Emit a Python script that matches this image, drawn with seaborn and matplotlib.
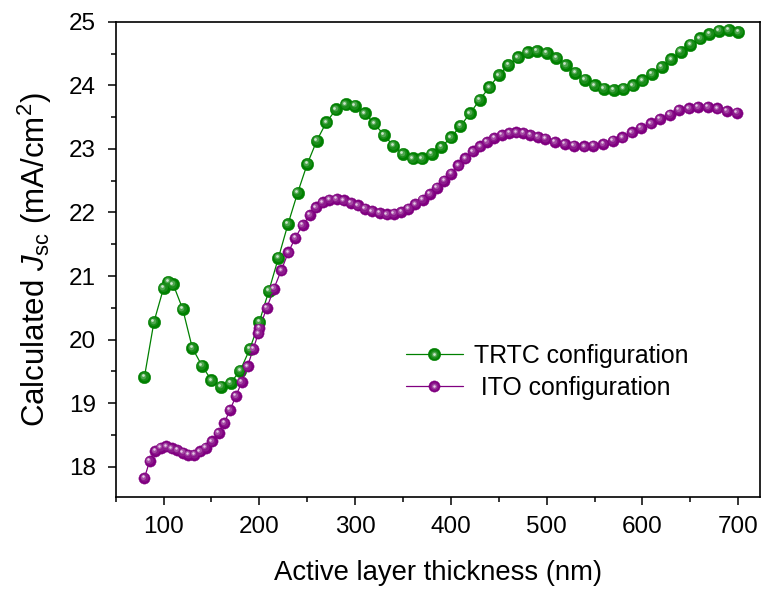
import numpy as np
import pandas as pd
import matplotlib
matplotlib.use("Agg")
import matplotlib.pyplot as plt
import matplotlib.transforms as mtransforms
from matplotlib.ticker import MultipleLocator
from matplotlib.lines import Line2D
from matplotlib.legend_handler import HandlerTuple
import seaborn as sns

# ---------------- data ----------------
trtc_x = [80, 90, 100, 105, 110, 120, 130, 140, 150, 160, 170, 180, 190, 200,
          210, 220, 230, 240, 250, 260, 270, 280, 290, 300, 310, 320, 330, 340,
          350, 360, 370, 380, 390, 400, 410, 420, 430, 440, 450, 460, 470, 480,
          490, 500, 510, 520, 530, 540, 550, 560, 570, 580, 590, 600, 610, 620,
          630, 640, 650, 660, 670, 680, 690, 700]
trtc_y = [19.41, 20.28, 20.81, 20.91, 20.87, 20.48, 19.87, 19.59, 19.36, 19.26,
          19.32, 19.51, 19.85, 20.28, 20.77, 21.29, 21.82, 22.31, 22.76, 23.13,
          23.42, 23.62, 23.70, 23.68, 23.56, 23.40, 23.22, 23.05, 22.92, 22.85,
          22.85, 22.92, 23.03, 23.18, 23.36, 23.56, 23.77, 23.97, 24.16, 24.32,
          24.44, 24.52, 24.54, 24.51, 24.43, 24.32, 24.20, 24.09, 24.00, 23.95,
          23.93, 23.95, 24.00, 24.08, 24.18, 24.29, 24.41, 24.53, 24.64, 24.74,
          24.81, 24.86, 24.87, 24.84]

ito_x = [80, 85.5, 91.3, 97, 102.8, 108.4, 114.3, 120.3, 126, 132, 138, 143.8,
         150.5, 157.4, 163.4, 169.3, 175.6, 181.5, 187.7, 193.6, 199, 200,
         207.9, 215.2, 222.9, 230.2, 237.5, 245.1, 252.8, 259.3, 266, 273,
         280.6, 287.9, 295.6, 302.9, 310.2, 317.8, 325.5, 333.2, 340.5, 348.1,
         355.7, 363, 370.4, 378.1, 385.4, 393, 400.3, 407.9, 415.2, 423, 430.6,
         437.6, 445.2, 453.2, 460.9, 468.5, 475.8, 483.1, 491.1, 498.7, 508.6,
         519.3, 528.7, 539.2, 548.9, 559.3, 569.1, 579.1, 588.9, 598.6, 608.8,
         618.5, 628.9, 638.3, 648.4, 658.1, 668.3, 678.3, 688.1, 698.5]
ito_y = [17.82, 18.09, 18.25, 18.30, 18.32, 18.29, 18.26, 18.22, 18.19, 18.19,
         18.24, 18.30, 18.40, 18.53, 18.69, 18.89, 19.11, 19.33, 19.58, 19.85,
         20.10, 20.18, 20.50, 20.80, 21.09, 21.37, 21.60, 21.80, 21.96, 22.08,
         22.16, 22.20, 22.21, 22.19, 22.15, 22.11, 22.06, 22.02, 21.99, 21.97,
         21.98, 22.01, 22.06, 22.13, 22.20, 22.29, 22.39, 22.50, 22.61, 22.74,
         22.85, 22.96, 23.04, 23.11, 23.17, 23.22, 23.25, 23.26, 23.25, 23.22,
         23.19, 23.16, 23.11, 23.08, 23.05, 23.04, 23.05, 23.08, 23.13, 23.18,
         23.26, 23.33, 23.40, 23.47, 23.54, 23.61, 23.64, 23.66, 23.66, 23.64,
         23.60, 23.57]

series_labels = ["TRTC configuration", " ITO configuration"]
x_ticks = [100, 200, 300, 400, 500, 600, 700]
y_ticks = [18, 19, 20, 21, 22, 23, 24, 25]

# ---------------- style ----------------
sns.set_style("ticks")
plt.rcParams["font.family"] = ["Liberation Sans", "DejaVu Sans"]
plt.rcParams["mathtext.fontset"] = "custom"
plt.rcParams["mathtext.rm"] = "Liberation Sans"
plt.rcParams["mathtext.it"] = "Liberation Sans:italic"
plt.rcParams["mathtext.bf"] = "Liberation Sans:bold"
plt.rcParams["text.color"] = "black"
plt.rcParams["axes.labelcolor"] = "black"
plt.rcParams["xtick.color"] = "black"
plt.rcParams["ytick.color"] = "black"

GREEN = "#008000"
PURPLE = "#800080"


def lighten(c, f):
    r, g, b = matplotlib.colors.to_rgb(c)
    return (r + (1 - r) * f, g + (1 - g) * f, b + (1 - b) * f)


fig = plt.figure(figsize=(7.61, 5.89), dpi=100)
ax = fig.add_axes([0.152, 0.157, 0.847, 0.806])

df_t = pd.DataFrame({"x": trtc_x, "y": trtc_y})
df_i = pd.DataFrame({"x": ito_x, "y": ito_y})

# shading layers: (size factor, lighten factor, offset in points)
layers = [(0.72, 0.10, 0.5), (0.45, 0.30, 0.9), (0.22, 0.80, 1.2)]

handles = []
for df, col, ms, lab in [(df_t, GREEN, 9.0, series_labels[0]),
                         (df_i, PURPLE, 8.1, series_labels[1])]:
    sns.lineplot(data=df, x="x", y="y", ax=ax, estimator=None, sort=False,
                 color=col, lw=0.9, marker="o", markersize=ms,
                 markeredgewidth=0.3, markeredgecolor=col,
                 markerfacecolor=col, zorder=3)
    hs = [Line2D([], [], color=col, lw=0.9, marker="o", ms=ms, mfc=col,
                 mec=col, mew=0.3)]
    for k, (sf, lf, off) in enumerate(layers):
        tr = mtransforms.offset_copy(ax.transData, fig=fig, x=-off, y=off,
                                     units="points")
        ax.plot(df["x"], df["y"], ls="none", marker="o", ms=ms * sf,
                mec="none", mfc=lighten(col, lf), transform=tr, zorder=4 + k)
        hs.append(Line2D([], [], ls="none", marker="o", ms=ms * sf,
                         mec="none", mfc=lighten(col, lf)))
    handles.append((tuple(hs), lab))

ax.set_xlim(50, 723)
ax.set_ylim(17.53, 25)
ax.set_xticks(x_ticks)
ax.set_yticks(y_ticks)
ax.xaxis.set_minor_locator(MultipleLocator(50))
ax.yaxis.set_minor_locator(MultipleLocator(0.5))
ax.tick_params(which="major", direction="out", length=6, width=1.1,
               labelsize=17.5, colors="black", pad=8)
ax.tick_params(which="minor", direction="out", length=3.6, width=1.1)
ax.tick_params(top=False, right=False, which="both")
for s in ax.spines.values():
    s.set_visible(True)
    s.set_linewidth(1.2)
    s.set_color("black")

ax.set_xlabel("Active layer thickness (nm)", fontsize=19.8, labelpad=16)
ax.set_ylabel(r"Calculated $J_{\mathrm{sc}}$ (mA/cm$^{2}$)", fontsize=22.5,
              labelpad=11)

leg = ax.legend([h for h, _ in handles], [l for _, l in handles],
                handler_map={tuple: HandlerTuple(ndivide=1, pad=0)},
                loc="upper left", bbox_to_anchor=(0.450, 0.322),
                frameon=False, fontsize=17.9, handlelength=2.3,
                handletextpad=0.45, labelspacing=0.33, borderpad=0,
                borderaxespad=0)

fig.savefig("out.png", dpi=100)
